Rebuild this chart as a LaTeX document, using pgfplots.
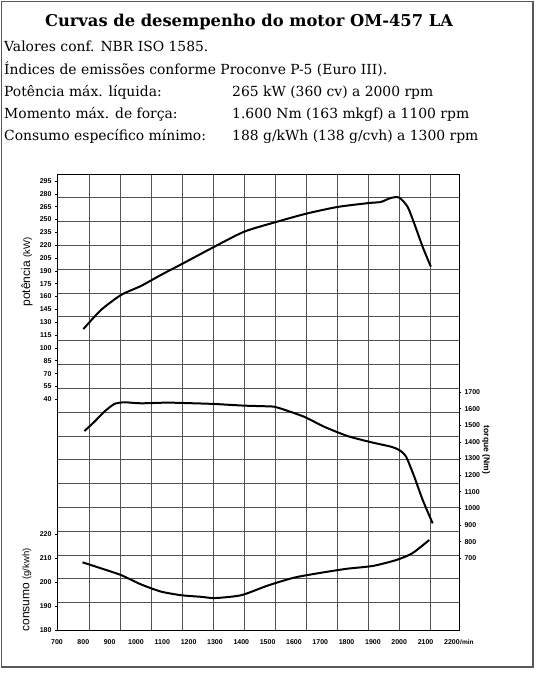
\documentclass[border=0pt]{standalone}
\usepackage{pgfplots}
\pgfplotsset{compat=1.18}
\usepackage{fontspec}
\setmainfont{DejaVu Serif}
\newfontfamily\tickfont{Liberation Sans}

\pgfplotsset{
  base/.style={scale only axis, width=402pt, height=455.5pt,
    at={(57pt,49pt)}, anchor=south west,
    /pgf/number format/assume math mode=true,
    /pgf/number format/1000 sep={},
    ticklabel style={font=\tickfont\bfseries\fontsize{7}{8}\selectfont},
    tick style={black, line width=0.6pt}},
  data/.style={base, axis line style={draw=none}, xtick=\empty,
    tick align=outside, major tick length=2pt},
  curve/.style={black, line width=2pt, smooth, tension=0.4},
}

\begin{document}
\begin{tikzpicture}
\path[use as bounding box] (0,0) rectangle (537pt,679pt);
\draw[line width=1.5pt, black!65] (1.5pt,12pt) rectangle (533pt,677.5pt);

% header
\node[font=\bfseries\fontsize{16.3}{20}\selectfont] at (249pt,657pt)
  {Curvas de desempenho do motor OM-457 LA};
\begin{scope}[every node/.style={anchor=mid west, inner sep=0pt,
    font=\fontsize{13.9}{16}\selectfont}]
  \node at (4pt,630pt) {Valores conf. NBR ISO 1585.};
  \node at (4pt,607.5pt) {Índices de emissões conforme Proconve P-5 (Euro III).};
  \node at (4pt,585pt) {Potência máx. líquida:};
  \node at (4pt,563pt) {Momento máx. de força:};
  \node at (4pt,541pt) {Consumo específico mínimo:};
  \node at (232pt,585pt) {265 kW (360 cv) a 2000 rpm};
  \node at (232pt,563pt) {1.600 Nm (163 mkgf) a 1100 rpm};
  \node at (232pt,541pt) {188 g/kWh (138 g/cvh) a 1300 rpm};
\end{scope}

% grid paper (pixel units of the scan)
\begin{axis}[base, xmin=57, xmax=459, ymin=174.5, ymax=630, y dir=reverse,
  xtick={89,120,151,182,213,244,275,306,337,368,399,430},
  ytick={197.7,221.5,245.3,269.2,293.0,316.8,340.6,364.4,388.3,412.1,
         435.9,459.7,483.5,507.4,531.2,555.0,578.8,602.6},
  xticklabels={}, yticklabels={}, major tick length=0pt,
  grid=major, major grid style={black!68, line width=0.7pt},
  axis line style={line width=0.9pt}]
\end{axis}

% potencia (kW)
\begin{axis}[data, xmin=700, xmax=2227, ymin=-229.5, ymax=302.6,
  ytick={40,55,...,295}, ytick pos=left,
  xtick={700,800,...,2200}, xtick pos=bottom, xtick style={draw=none},
  xticklabel style={yshift=-4.5pt}]
\addplot[curve] coordinates {
  (800,122) (867,144.3) (943,161.8) (1019,172.4) (1095,185.3)
  (1171,197.5) (1294,217.6) (1411,235.8) (1532,247.1) (1649,257.0)
  (1766,264.7) (1886,269.3) (1930,270.5) (1968,275.2) (2000,275.6)
  (2032,264.7) (2057,245.3) (2089,218.0) (2120,194.9)
};
\end{axis}

% torque (Nm)
\begin{axis}[data, xmin=700, xmax=2227, ymin=268.8, ymax=3007.9,
  ytick={700,800,...,1700}, ytick pos=right, yticklabel pos=right]
\addplot[curve] coordinates {
  (804,1465) (842,1521) (880,1582) (918,1628) (956,1638) (1019,1632)
  (1120,1636) (1221,1632) (1297,1628) (1411,1618) (1525,1612)
  (1551,1600) (1639,1551) (1715,1491) (1804,1435) (1893,1398)
  (1969,1371) (2000,1351) (2026,1311) (2057,1191) (2089,1051) (2127,910)
};
\end{axis}

% consumo (g/kWh)
\begin{axis}[data, xmin=700, xmax=2227, ymin=180, ymax=369.8,
  ytick={180,190,...,220}, ytick pos=left]
\addplot[curve] coordinates {
  (797,208.2) (867,205.7) (943,202.9) (1019,199.0) (1095,196.0)
  (1171,194.5) (1250,193.8) (1300,193.3) (1400,194.5) (1500,198.5)
  (1600,201.8) (1700,203.8) (1800,205.5) (1900,206.7) (1990,209.2)
  (2050,212) (2114,217.5)
};
\end{axis}

% axis titles
\node[rotate=90, font=\tickfont\fontsize{12}{14}\selectfont] at (27pt,407pt)
  {potência {\fontsize{9.5}{11}\selectfont(kW)}};
\node[rotate=90, font=\tickfont\fontsize{12}{14}\selectfont] at (27pt,89pt)
  {consumo {\fontsize{9.5}{11}\selectfont(g/kwh)}};
\node[rotate=-90, font=\tickfont\bfseries\fontsize{8.5}{10}\selectfont] at (486pt,229pt)
  {torque (Nm)};
\node[font=\tickfont\bfseries\fontsize{6.5}{7}\selectfont, anchor=west, inner sep=0pt]
  at (460pt,36.3pt) {/min};
\end{tikzpicture}
\end{document}
